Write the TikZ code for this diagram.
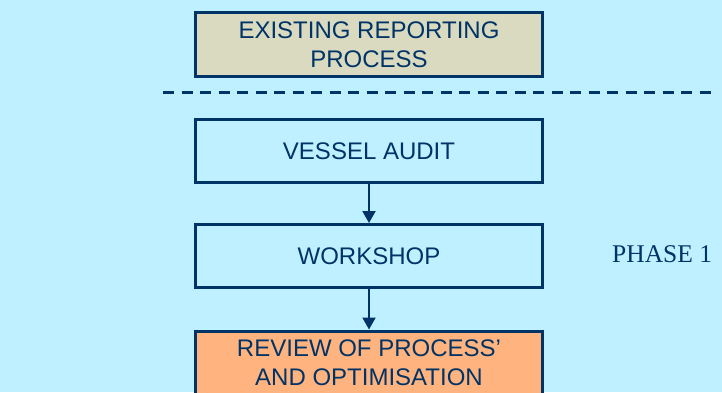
\documentclass[tikz,border=0pt]{standalone}
\usepackage{fontspec}
\setmainfont{Liberation Sans}
\newfontfamily\phasefont{Liberation Serif}
\usetikzlibrary{arrows.meta}
\definecolor{bgcyan}{RGB}{191,240,255}
\definecolor{navy}{RGB}{0,51,102}
\definecolor{khaki}{RGB}{217,218,192}
\definecolor{peach}{RGB}{255,180,128}
\tikzset{
  box/.style={draw=navy, line width=3pt, minimum width=347pt, inner sep=0pt,
    align=center, text=navy, font=\fontsize{24}{29}\selectfont},
  flow/.style={draw=navy, line width=2pt, -{Triangle[length=12pt,width=13pt]}},
  sep/.style={draw=navy, line width=3pt, dash pattern=on 11pt off 7.5pt},
}
\begin{document}
\begin{tikzpicture}[x=1pt,y=-1pt]
\fill[bgcyan] (0,0) rectangle (722,392);
\useasboundingbox (0,0) rectangle (722,392);
\begin{scope}
\clip (0,0) rectangle (722,392);
\node[box, fill=khaki, minimum height=64pt] (existing) at (369,44.5) {EXISTING REPORTING\\PROCESS};
\coordinate (sepL) at (163,92);
\coordinate (sepR) at (716,92);
\draw[sep] (sepL) -- (sepR);
\node[box, minimum height=63pt] (audit) at (369,151) {VESSEL AUDIT};
\node[box, minimum height=63pt] (workshop) at (369,256) {WORKSHOP};
\node[box, fill=peach, anchor=north] (review) at (369,329.5)
  {\parbox[t][80pt][t]{347pt}{\centering\vspace*{9pt}REVIEW OF PROCESS'\\AND OPTIMISATION}};
\draw[flow] (audit.south) -- (workshop.north);
\draw[flow] (workshop.south) -- (review.north);
\node[anchor=base west, inner sep=0pt, text=navy, font=\phasefont\fontsize{25.5}{30}\selectfont] (phase) at (612,262) {PHASE 1};
\end{scope}
\end{tikzpicture}
\end{document}
